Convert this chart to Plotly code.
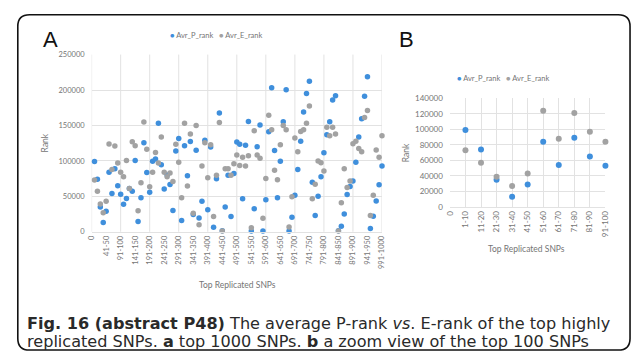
import plotly.graph_objects as go

# ---- data ---------------------------------------------------------------
# bins of replicated SNPs, ordered by replication rank
bins_top1000 = ["0"] + [f"{10 * i + 1}-{10 * i + 10}" for i in range(100)]
bins_top100 = ["0"] + [f"{10 * i + 1}-{10 * i + 10}" for i in range(10)]

# average P-rank per bin (top 1000 SNPs)
p_rank_top1000 = [
    99000, 74000, 35000, 13000, 29000, 84000, 54000, 89000, 65000, 53000,
    38800, 47000, 61000, 57000, 100400, 14600, 48000, 125500, 83500, 55700,
    99500, 102700, 153000, 94500, 60300, 80000, 66600, 30100, 114100, 131500,
    16000, 121400, 79000, 127400, 24200, 115000, 19300, 43000, 129200, 31200,
    119600, 6500, 74800, 167700, 1500, 35000, 79900, 21500, 82200, 126500,
    123300, 46600, 121900, 155700, 1000, 32400, 120000, 150700, 1000, 45200,
    141100, 203200, 114600, 47900, 99500, 155200, 200400, 1000, 20500, 51600,
    87700, 127800, 169000, 195000, 212300, 69900, 22800, 50200, 77600, 111400,
    137000, 155200, 185800, 191800, 1500, 7800, 25100, 52500, 63900, 71700,
    98200, 133800, 159400, 191300, 218700, 4600, 21900, 43300, 66200, 92700,
]

# average E-rank per bin (top 1000 SNPs)
e_rank_top1000 = [
    73000, 57000, 39000, 27000, 43000, 124000, 88000, 121000, 97000, 84000,
    77600, 100500, 61000, 127000, 121500, 29700, 69000, 155000, 116500, 63500,
    84000, 111900, 97000, 133800, 84000, 77600, 83000, 70800, 123300, 98200,
    48000, 153000, 64400, 137900, 26000, 149800, 10000, 92700, 125600, 76300,
    122800, 21500, 79900, 154300, 1000, 89000, 89000, 79900, 96000, 108200,
    93600, 105000, 92700, 107300, 5500, 142500, 108200, 103600, 19200, 75300,
    164400, 143800, 86800, 73500, 122800, 149800, 143800, 6800, 49300, 132400,
    112800, 141500, 143800, 153000, 177600, 46600, 67100, 100000, 97300, 85800,
    147500, 135600, 147500, 137900, 1000, 41100, 89000, 62600, 71700, 124200,
    127800, 117300, 112800, 161200, 171200, 22800, 51600, 115500, 105000, 135600,
]

# zoom on the top 100 SNPs
p_rank_top100 = [99000, 74000, 35000, 13000, 29000, 84000, 54000, 89000, 65000, 53000]
e_rank_top100 = [73000, 57000, 39000, 27000, 43000, 124000, 88000, 121000, 97000, 84000]

# ---- styling ------------------------------------------------------------
W, H = 637, 357
BLUE = "#3f8fdc"
GREY = "#a2a2a2"
GRID = "#e2e2e2"
TICK = "#757575"
FONT = "Lato, Open Sans, sans-serif"
CAPTION_FONT = "DejaVu Sans, sans-serif"


def fx(px):
    return px / W


def fy(py):
    return 1 - py / H


fig = go.Figure()

# panel A: top 1000 (empty "0" bin keeps the axis starting at 0)
fig.add_trace(go.Scatter(
    x=bins_top1000, y=[None] + p_rank_top1000, mode="markers", name="Avr_P_rank",
    marker=dict(color=BLUE, size=5.5), xaxis="x", yaxis="y", cliponaxis=False,
    showlegend=False))
fig.add_trace(go.Scatter(
    x=bins_top1000, y=[None] + e_rank_top1000, mode="markers", name="Avr_E_rank",
    marker=dict(color=GREY, size=5.5), xaxis="x", yaxis="y", cliponaxis=False,
    showlegend=False))

# panel B: top 100
fig.add_trace(go.Scatter(
    x=bins_top100, y=[None] + p_rank_top100, mode="markers", name="Avr_P_rank",
    marker=dict(color=BLUE, size=6), xaxis="x2", yaxis="y2", cliponaxis=False,
    showlegend=False))
fig.add_trace(go.Scatter(
    x=bins_top100, y=[None] + e_rank_top100, mode="markers", name="Avr_E_rank",
    marker=dict(color=GREY, size=6), xaxis="x2", yaxis="y2", cliponaxis=False,
    showlegend=False))

tick_a = dict(family=FONT, size=7.5, color=TICK)
tick_b = dict(family=FONT, size=8, color=TICK)

fig.update_layout(
    width=W, height=H,
    margin=dict(l=0, r=0, t=0, b=0),
    paper_bgcolor="white", plot_bgcolor="rgba(0,0,0,0)",
    xaxis=dict(
        domain=[fx(88), fx(383)], anchor="y", type="category",
        categoryorder="array", categoryarray=bins_top1000, range=[0, 100],
        tickmode="array", tickvals=bins_top1000[::5], tickangle=-90,
        showgrid=False, showline=True, linecolor=GRID, linewidth=1,
        ticks="", tickfont=tick_a, zeroline=False),
    yaxis=dict(
        domain=[fy(233.3), fy(51)], anchor="x", range=[0, 250000],
        dtick=50000, tickformat="d", showgrid=True, gridcolor=GRID,
        gridwidth=1, zeroline=False, ticks="", ticklabelstandoff=6,
        tickfont=tick_a),
    xaxis2=dict(
        domain=[fx(452), fx(610)], anchor="y2", type="category",
        categoryorder="array", categoryarray=bins_top100, range=[0, 10],
        tickangle=-90, showgrid=True, gridcolor=GRID, gridwidth=1,
        showline=True, linecolor=GRID, linewidth=1, ticks="",
        tickfont=tick_b, zeroline=False),
    yaxis2=dict(
        domain=[fy(207.7), fy(96)], anchor="x2", range=[0, 140000],
        dtick=20000, tickformat="d", showgrid=True, gridcolor=GRID,
        gridwidth=1, zeroline=False, ticks="", ticklabelstandoff=6,
        tickfont=tick_b),
)

# vertical grid of panel A: one line every ten bins
shapes = [
    dict(type="line", xref="x", yref="y domain", x0=i, x1=i, y0=0, y1=1,
         line=dict(color=GRID, width=1), layer="below")
    for i in range(0, len(bins_top1000), 10)
]

# rounded frame around the figure
x0, x1, y0, y1, r = fx(13), fx(635), fy(10), fy(355), 12
rx, ry = r / W, r / H
frame = (f"M {x0 + rx} {y0} L {x1 - rx} {y0} Q {x1} {y0} {x1} {y0 - ry} "
         f"L {x1} {y1 + ry} Q {x1} {y1} {x1 - rx} {y1} "
         f"L {x0 + rx} {y1} Q {x0} {y1} {x0} {y1 + ry} "
         f"L {x0} {y0 - ry} Q {x0} {y0} {x0 + rx} {y0} Z")
shapes.append(dict(type="path", xref="paper", yref="paper", path=frame,
                   line=dict(color="#111111", width=1.6)))
fig.update_layout(shapes=shapes)


def note(text, x, y, size, color=TICK, family=FONT, angle=0, xanchor="center"):
    fig.add_annotation(text=text, x=fx(x), y=fy(y), xref="paper", yref="paper",
                       showarrow=False, xanchor=xanchor, yanchor="middle",
                       textangle=angle, borderpad=0,
                       font=dict(family=family, size=size, color=color))


legend_txt = (f"<span style='color:{BLUE}'>●</span> Avr_P_rank"
              f"&nbsp;&nbsp;&nbsp;<span style='color:{GREY}'>●</span> Avr_E_rank")

# panel labels
note("A", 46, 36, 22, color="#111111", family="Liberation Sans, Arial")
note("B", 408, 35, 22, color="#111111", family="Liberation Sans, Arial")

# legends
note(legend_txt, 214, 31, 7.5)
note(legend_txt, 506, 76, 7.5)

# axis titles
note("Rank", 41, 142, 8.5, angle=-90)
note("Top Replicated SNPs", 236, 288, 8.5)
note("Rank", 407, 152, 8.5, angle=-90)
note("Top Replicated SNPs", 530, 251, 8.5)

# caption
note("<b>Fig. 16 (abstract P48)</b> The average P-rank <i>vs</i>. E-rank of the top highly",
     21, 327.5, 16.1, color="#2a2a2a", family=CAPTION_FONT, xanchor="left")
note("replicated SNPs. <b>a</b> top 1000 SNPs. <b>b</b> a zoom view of the top 100 SNPs",
     21, 346, 16.1, color="#2a2a2a", family=CAPTION_FONT, xanchor="left")

fig.write_html("out.html")
